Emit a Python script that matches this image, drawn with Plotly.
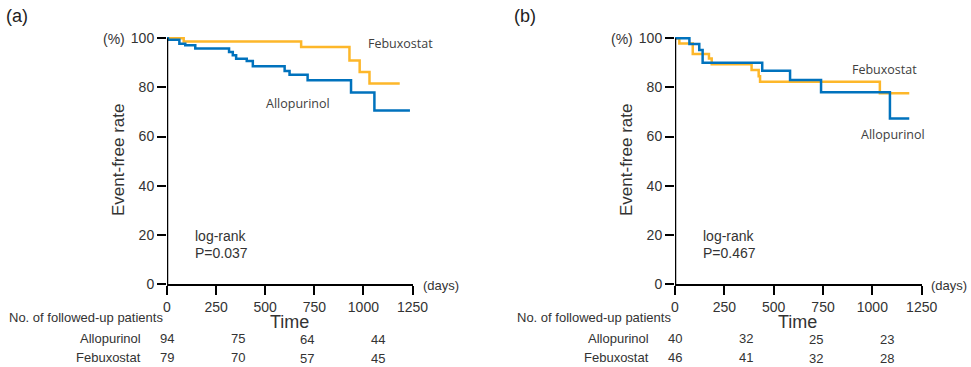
import plotly.graph_objects as go

# ---- data ----
a_allo_t = [0, 5, 63, 93, 144, 316, 335, 352, 406, 437, 599, 624, 716, 937, 1056, 1237]
a_allo_s = [100, 99.4, 97.8, 97.2, 95.8, 94.4, 93.1, 91.7, 90.8, 88.6, 86.7, 85.2, 82.9, 77.9, 70.6, 70.6]
a_febu_t = [0, 85, 683, 929, 981, 1031, 1185]
a_febu_s = [100, 98.7, 96.5, 91.0, 86.3, 81.6, 81.6]

b_allo_t = [0, 73, 123, 140, 442, 583, 740, 1089, 1187]
b_allo_s = [100, 97.7, 95.2, 90.1, 86.8, 83.0, 78.0, 67.4, 67.4]
b_febu_t = [0, 22, 90, 172, 186, 388, 424, 431, 1038, 1187]
b_febu_s = [100, 97.9, 93.6, 91.8, 89.4, 87.1, 84.6, 82.3, 77.6, 77.6]

risk_days = [0, 362, 714, 1076]
a_risk_allo = [94, 75, 64, 44]
a_risk_febu = [79, 70, 57, 45]
b_risk_allo = [40, 32, 25, 23]
b_risk_febu = [46, 41, 32, 28]

x_ticks = [0, 250, 500, 750, 1000, 1250]
y_ticks = [0, 20, 40, 60, 80, 100]

ORANGE = "#FDB72A"
BLUE = "#0072BD"
TXT = "#333333"
FONT = "Liberation Sans, Arial, sans-serif"
LFONT = "Open Sans, sans-serif"

W, H = 971, 367
def px_x(p):
    return p / W
def px_y(p):
    return (H - p) / H

fig = go.Figure()
for xa, ya, t, s, c in [("x", "y", a_febu_t, a_febu_s, ORANGE),
                        ("x", "y", a_allo_t, a_allo_s, BLUE),
                        ("x2", "y2", b_febu_t, b_febu_s, ORANGE),
                        ("x2", "y2", b_allo_t, b_allo_s, BLUE)]:
    fig.add_trace(go.Scatter(x=t, y=s, mode="lines", line=dict(color=c, width=2.5, shape="hv"),
                             xaxis=xa, yaxis=ya, showlegend=False, hoverinfo="skip"))

ydom = [px_y(284), px_y(38.3 - 2 * 2.457)]
axis_common = dict(showgrid=False, zeroline=False, ticks="outside", ticklen=9, tickwidth=2,
                   tickcolor="black", automargin=False,
                   tickfont=dict(family=FONT, size=14, color=TXT))
fig.update_layout(
    width=W, height=H, autosize=False,
    margin=dict(l=0, r=0, t=0, b=0, pad=0, autoexpand=False),
    paper_bgcolor="white", plot_bgcolor="white",
    xaxis=dict(domain=[px_x(167), px_x(412.5)], range=[0, 1250], tickvals=x_ticks,
               showline=True, linecolor="black", linewidth=2, anchor="y", **axis_common),
    yaxis=dict(domain=ydom, range=[0, 102], tickvals=y_ticks, showline=False, anchor="x",
               **axis_common),
    xaxis2=dict(domain=[px_x(675), px_x(921.7)], range=[0, 1250], tickvals=x_ticks,
                showline=True, linecolor="black", linewidth=2, anchor="y2", **axis_common),
    yaxis2=dict(domain=ydom, range=[0, 102], tickvals=y_ticks, showline=False, anchor="x2",
                **axis_common),
)

shapes = []
for xr, yr in [("x", "y"), ("x2", "y2")]:
    shapes.append(dict(type="line", xref=xr, yref=yr, x0=0, x1=0, y0=0, y1=100,
                       line=dict(color="black", width=2.5), layer="above"))
fig.update_layout(shapes=shapes)

ann = []
def A(text, x, y, xref="paper", yref="paper", size=14, xanchor="center", yanchor="middle",
      family=FONT, color=TXT, textangle=0):
    ann.append(dict(text=text, x=x, y=y, xref=xref, yref=yref, showarrow=False,
                    xanchor=xanchor, yanchor=yanchor, textangle=textangle,
                    font=dict(family=family, size=size, color=color)))

for panel, x0px, xr, yr, ra, rf in [("(a)", 0, "x", "y", a_risk_allo, a_risk_febu),
                                    ("(b)", 508, "x2", "y2", b_risk_allo, b_risk_febu)]:
    A(panel, px_x(x0px + 4), px_y(16), size=18, xanchor="left", color="#222222")
    ax0 = 167 if panel == "(a)" else 675
    A("(%)", px_x(ax0 - 53), px_y(39), size=14, xanchor="center")
    A("Event-free rate", px_x(ax0 - 49), px_y(160), size=17, textangle=-90)
    A("(days)", px_x(ax0 + 274), px_y(285), size=13)
    A("Time", px_x(ax0 + 122), px_y(322), size=18)
    A("No. of followed-up patients", px_x(x0px + 7), px_y(317), size=13, xanchor="left")
    A("Allopurinol", px_x(ax0 - 24), px_y(338), size=13, xanchor="right")
    A("Febuxostat", px_x(ax0 - 24), px_y(357), size=13, xanchor="right")
    for i, d in enumerate(risk_days):
        dy = 1.5 if i >= 2 else 0
        A(str(ra[i]), d, px_y(338 + dy), xref=xr, size=13)
        A(str(rf[i]), d, px_y(357 + dy), xref=xr, size=13)
    A("log-rank", 130, 19.5, xref=xr, yref=yr, size=14, xanchor="left")
    A("P=" + ("0.037" if panel == "(a)" else "0.467"), 130, 12.5, xref=xr, yref=yr, size=14,
      xanchor="left")

A("Febuxostat", 1190, 97.7, xref="x", yref="y", size=12.5, family=LFONT, color="#404040")
A("Allopurinol", 668, 73.3, xref="x", yref="y", size=12.5, family=LFONT, color="#404040")
A("Febuxostat", 1059, 87.5, xref="x2", yref="y2", size=12.5, family=LFONT, color="#404040")
A("Allopurinol", 1104, 61, xref="x2", yref="y2", size=12.5, family=LFONT, color="#404040")

fig.update_layout(annotations=ann)
fig.write_html("out.html")
